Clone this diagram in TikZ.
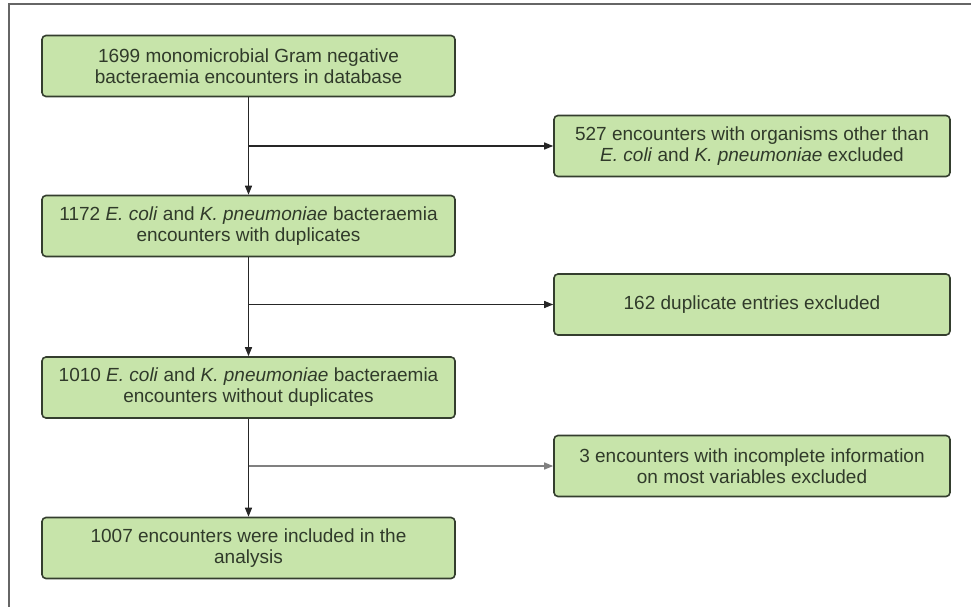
\documentclass[tikz,border=0pt]{standalone}
\usepackage{fontspec}
\setmainfont{Liberation Sans}
\usetikzlibrary{arrows.meta}
\definecolor{boxfill}{RGB}{199,228,170}
\definecolor{boxline}{RGB}{52,62,46}
\definecolor{boxtext}{RGB}{48,58,42}
\newcommand{\stagebox}[5][413pt]{%
  % #1 width (default 413pt), #2 name, #3 x, #4 y, #5 text
  \node[
    draw=boxline,
    fill=boxfill,
    rounded corners=4pt,
    line width=1.6pt,
    minimum width=#1,
    minimum height=61pt,
    inner sep=0pt,
    font=\fontsize{19}{21}\selectfont,
    text=boxtext,
    align=center
  ] (#2) at (#3,#4) {#5};
}

\begin{document}
\begin{tikzpicture}[x=1pt,y=-1pt]

% connector styles
\tikzset{
  flow/.style={line width=1.3pt, draw=black!85, -{Triangle[length=9pt,width=7pt]}},
  faint/.style={flow, draw=black!50},
}

\useasboundingbox (0,0) rectangle (971,607);

% frame: only its top and left edges are in view
\draw[line width=1.4pt, black!60] (9,607) -- (9,4) -- (971,4);

% ---------------- main column ----------------
\stagebox{b1}{248.5}{66}{1699 monomicrobial Gram negative\\bacteraemia encounters in database};
\stagebox{b2}{248.5}{226}{1172 \textit{E. coli} and \textit{K. pneumoniae} bacteraemia\\encounters with duplicates};
\stagebox{b3}{248.5}{387.5}{1010 \textit{E. coli} and \textit{K. pneumoniae} bacteraemia\\encounters without duplicates};
\stagebox{b4}{248.5}{548}{1007 encounters were included in the\\analysis};

% ---------------- exclusions ----------------
\stagebox[396pt]{r1}{752}{146}{527 encounters with organisms other than\\\textit{E. coli} and \textit{K. pneumoniae} excluded};
\stagebox[396pt]{r2}{752}{304.5}{162 duplicate entries excluded};
\stagebox[396pt]{r3}{752}{466}{3 encounters with incomplete information\\on most variables excluded};

% junctions on the main line
\coordinate (j1) at (b1.south |- r1.west);
\coordinate (j2) at (b2.south |- r2.west);
\coordinate (j3) at (b3.south |- r3.west);

\draw[flow] (b1.south) -- (b2.north);
\draw[flow] (b2.south) -- (b3.north);
\draw[flow] (b3.south) -- (b4.north);

\draw[flow] (j1) -- (r1.west);
\draw[flow] (j2) -- (r2.west);
\draw[faint] (j3) -- (r3.west);

\end{tikzpicture}
\end{document}
